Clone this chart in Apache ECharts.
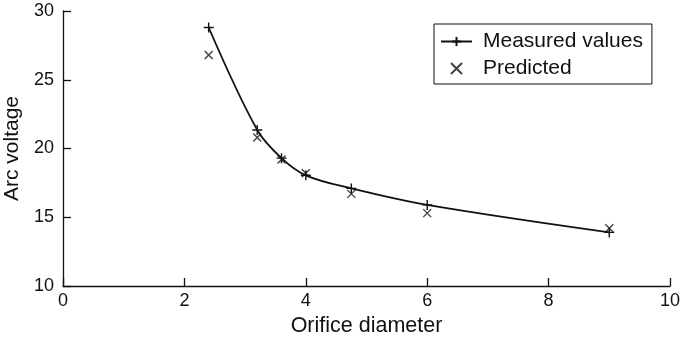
<!DOCTYPE html>
<html><head><meta charset="utf-8">
<script src="https://cdn.jsdelivr.net/npm/echarts@6/dist/echarts.min.js"></script>
<style>html,body{margin:0;padding:0;background:#fff}#c{width:682px;height:340px}</style>
</head><body><div id="c"></div>
<script>
const diameters = [2.4, 3.2, 3.6, 4.0, 4.75, 6, 9];
const measured = [28.8, 21.35, 19.3, 18.05, 17.1, 15.9, 13.9];
const predicted = [26.8, 20.8, 19.2, 18.2, 16.7, 15.3, 14.2];
const xTicks = [0, 2, 4, 6, 8, 10];
const yTicks = [10, 15, 20, 25, 30];

const FONT = 'Liberation Sans, Arial, sans-serif';
const INK = '#111';
const plus = 'path://M0,5L10,5M5,0L5,10';
const cross = 'path://M0,0L10,10M0,10L10,0';

const chart = echarts.init(document.getElementById('c'), null, {renderer: 'canvas'});
chart.setOption({
  animation: false,
  backgroundColor: '#fff',
  grid: {left: 63, right: 12, top: 11, bottom: 54, outerBoundsMode: 'none', containLabel: false},
  legend: {
    orient: 'vertical', left: 434, top: 24,
    padding: [7, 9, 5, 6],
    borderColor: INK, borderWidth: 1,
    itemWidth: 31, itemHeight: 11, itemGap: 6,
    textStyle: {fontFamily: FONT, fontSize: 21, lineHeight: 21, color: INK, padding: [0, 0, 0, 6]},
    data: ['Measured values', 'Predicted']
  },
  xAxis: {
    type: 'value', min: xTicks[0], max: xTicks[xTicks.length - 1], interval: 2,
    name: 'Orifice diameter', nameLocation: 'middle', nameGap: 22,
    nameTextStyle: {fontFamily: FONT, fontSize: 21.5, color: INK},
    axisLine: {show: true, lineStyle: {color: INK, width: 1.3}},
    axisTick: {show: true, inside: true, length: 8, lineStyle: {color: INK, width: 1.3}},
    axisLabel: {fontFamily: FONT, fontSize: 18, color: INK, margin: 6},
    splitLine: {show: false}
  },
  yAxis: {
    type: 'value', min: yTicks[0], max: yTicks[yTicks.length - 1], interval: 5,
    name: 'Arc voltage', nameLocation: 'middle', nameGap: 38,
    nameTextStyle: {fontFamily: FONT, fontSize: 21, color: INK},
    axisLine: {show: true, lineStyle: {color: INK, width: 1.3}},
    axisTick: {show: true, inside: true, length: 8, lineStyle: {color: INK, width: 1.3}},
    axisLabel: {fontFamily: FONT, fontSize: 18, color: INK, margin: 9},
    splitLine: {show: false}
  },
  series: [
    {
      name: 'Measured values', type: 'line', smooth: 0.35,
      data: diameters.map((d, i) => [d, measured[i]]),
      symbol: plus, symbolSize: 10, showAllSymbol: true,
      lineStyle: {color: INK, width: 1.8},
      itemStyle: {color: INK, borderColor: INK, borderWidth: 1.4}
    },
    {
      name: 'Predicted', type: 'scatter',
      data: diameters.map((d, i) => [d, predicted[i]]),
      symbol: cross, symbolSize: 8,
      itemStyle: {color: INK, borderColor: INK, borderWidth: 1.4}
    }
  ]
});
</script></body></html>
